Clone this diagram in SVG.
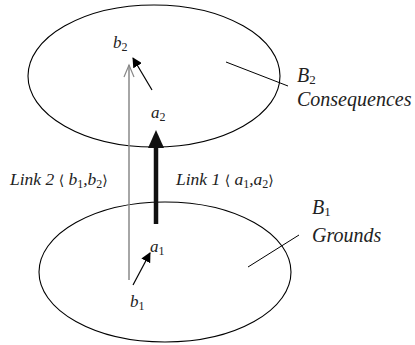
<svg xmlns="http://www.w3.org/2000/svg" width="415" height="345" viewBox="0 0 415 345">
<defs>
<style>
.ell{fill:none;stroke:#000;stroke-width:1.1}
.t{font-family:'Liberation Serif',serif;font-style:italic;fill:#222}
.big{font-size:20px}
.lab{font-size:17px}
.lnk{font-size:17.5px}
.sub{font-style:normal;font-size:12px}
.bsub{font-style:normal;font-size:13px}
.br{font-style:normal;font-family:'DejaVu Serif',serif;font-size:14px}
.lead{stroke:#000;stroke-width:1}
</style>
<marker id="fill" markerWidth="10" markerHeight="10" refX="9" refY="5" orient="auto" markerUnits="userSpaceOnUse">
<path d="M0,0 L10,5 L0,10 Z" fill="#000"/>
</marker>
</defs>
<rect width="415" height="345" fill="#fff"/>
<g id="B2">
<ellipse class="ell" cx="154" cy="76" rx="126" ry="71"/>
<line class="lead" x1="226" y1="62" x2="288" y2="86"/>
<text class="t big" x="297" y="82" font-family="Liberation Serif">B<tspan class="bsub" dy="2">2</tspan></text>
<text class="t big" x="297" y="106" font-family="Liberation Serif">Consequences</text>
</g>
<g id="B1">
<ellipse class="ell" cx="165" cy="272" rx="126" ry="70"/>
<line class="lead" x1="248" y1="267" x2="299" y2="235"/>
<text class="t big" x="312" y="214" font-family="Liberation Serif">B<tspan class="bsub" dy="2">1</tspan></text>
<text class="t big" x="312" y="242" font-family="Liberation Serif">Grounds</text>
</g>
<g id="b2"><text class="t lab" x="113" y="48" font-family="Liberation Serif">b<tspan class="sub" dy="3">2</tspan></text></g>
<g id="a2"><text class="t lab" x="151" y="118" font-family="Liberation Serif">a<tspan class="sub" dy="3">2</tspan></text></g>
<g id="a1"><text class="t lab" x="150" y="252" font-family="Liberation Serif">a<tspan class="sub" dy="3">1</tspan></text></g>
<g id="b1"><text class="t lab" x="130" y="307" font-family="Liberation Serif">b<tspan class="sub" dy="3">1</tspan></text></g>
<g id="connectors">
<line x1="129" y1="280" x2="129" y2="65" stroke="#888" stroke-width="1.5"/>
<polyline points="124,77 129,65 134,77" fill="none" stroke="#888" stroke-width="1.2"/>
<line x1="156" y1="224" x2="156" y2="146" stroke="#111" stroke-width="4.5"/>
<polygon points="156,130 148,148 164,148" fill="#111"/>
<line x1="152" y1="90" x2="133" y2="58" stroke="#000" stroke-width="1.2" marker-end="url(#fill)"/>
<line x1="133" y1="285" x2="150" y2="253" stroke="#000" stroke-width="1.2" marker-end="url(#fill)"/>
<text class="t lnk" x="10" y="185" font-family="Liberation Serif">Link 2 <tspan class="br">⟨</tspan> b<tspan class="sub" dy="3">1</tspan><tspan dy="-3">,b</tspan><tspan class="sub" dy="3">2</tspan><tspan class="br" dy="-3">⟩</tspan></text>
<text class="t lnk" x="176" y="185" font-family="Liberation Serif">Link 1 <tspan class="br">⟨</tspan> a<tspan class="sub" dy="3">1</tspan><tspan dy="-3">,a</tspan><tspan class="sub" dy="3">2</tspan><tspan class="br" dy="-3">⟩</tspan></text>
</g>
</svg>
